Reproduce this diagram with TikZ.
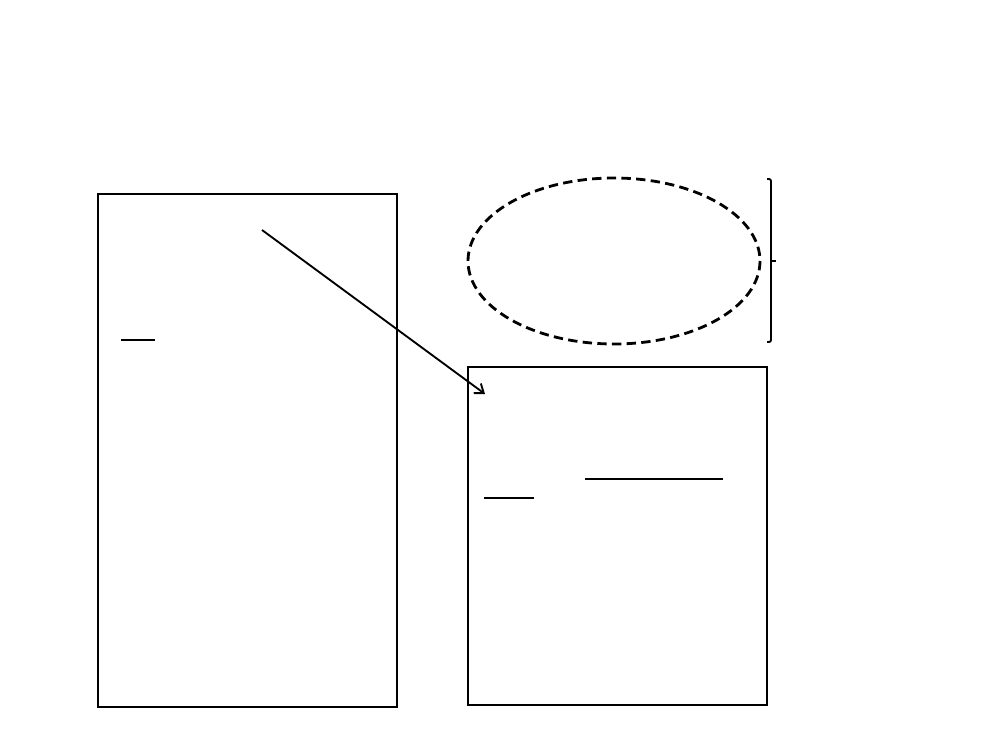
\documentclass[tikz,border=0pt]{standalone}
\usetikzlibrary{arrows.meta}
\begin{document}
\begin{tikzpicture}[x=0.75pt,y=-0.75pt,
  boxline/.style={draw=black,line width=1.6pt},
  rulel/.style={draw=black,line width=0.9pt},
  conn/.style={draw=black,line width=1.4pt,-{Straight Barb[length=6pt,width=9pt]}}]
\useasboundingbox (0,0) rectangle (1000,750);
\fill[white] (0,0) rectangle (1000,750);
% left box
\draw[boxline] (98,194) rectangle (397,707);
% right box
\draw[boxline,line width=1.9pt] (468,367) rectangle (767,705);
% ellipse
\draw[draw=black,dash pattern=on 7pt off 4pt,line width=2.1pt] (614,261) ellipse [x radius=146, y radius=83];
% brace
\draw[black,line width=1.4pt,rounded corners=1.5pt] (767,179) -- (771,179) -- (771,342) -- (767,342);
\draw[black,line width=1.4pt] (771,261) -- (776,261);
% short rules
\draw[rulel] (121,340) -- (155,340);
\draw[rulel] (585,479) -- (723,479);
\draw[rulel] (484,498) -- (534,498);
% arrow
\coordinate (a) at (262,230);
\coordinate (b) at (485,394);
\draw[conn] (a) -- (b);
\end{tikzpicture}
\end{document}
